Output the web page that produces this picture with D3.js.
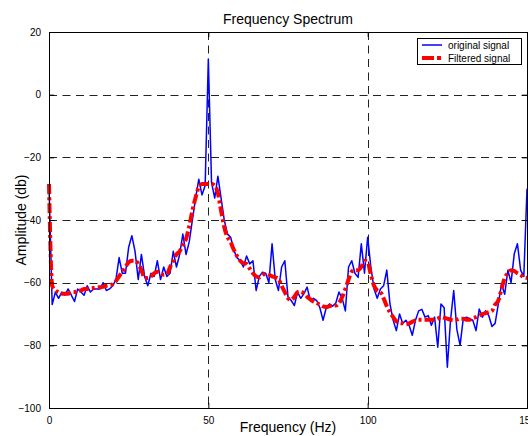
<!DOCTYPE html>
<html>
<head>
<meta charset="utf-8">
<script src="https://cdn.jsdelivr.net/npm/d3@7"></script>
<style>
  html, body { margin: 0; padding: 0; background: #fff; }
  svg { display: block; font-family: "Liberation Sans", Arial, sans-serif; }
</style>
</head>
<body>
<svg id="chart" width="528" height="436"></svg>
<script>
// frequency bins, 1 Hz apart
const freqs = d3.range(0, 151);

// original spectrum (dB)
const original = [
  -29, -67, -63, -65, -63, -64, -62, -64, -66, -62,
  -63, -64, -61, -63, -62, -62, -62, -60, -62.5, -62,
  -61, -59, -52, -57, -57, -48.7, -45, -50, -59, -51,
  -58, -61, -57, -58, -53, -59, -55, -58, -57, -50,
  -55, -51, -44.5, -51, -47, -40, -33, -27, -32, -29,
  11.4, -28, -33, -26, -33, -40, -44.5, -45.5, -49.7, -52,
  -53, -55, -51.5, -54, -53, -62.5, -58, -56.7, -57, -60,
  -47.6, -59, -62.5, -55, -53, -64.6, -65.7, -67.3, -63, -65,
  -63.5, -61.4, -65.7, -65, -65.7, -68, -72, -68, -66.8, -67.5,
  -66.5, -63, -65, -69, -55, -53, -57, -58.3, -47.6, -57,
  -45.5, -55, -62, -65, -62, -61, -56, -66.8, -72, -75.3,
  -70, -73, -72, -73.6, -76.8, -72, -69, -68.5, -71, -70.5,
  -73.6, -71, -80.6, -66.8, -68, -87, -72, -62.5, -75, -80,
  -71.5, -71, -71.5, -72, -75.3, -68.4, -71, -69, -70.5, -74,
  -73, -66.8, -60.5, -63.7, -56, -60, -50.8, -47.6, -56, -58,
  -30
];

// filtered spectrum (dB)
const filtered = [
  -28.5, -61, -62.5, -63, -63.5, -63.5, -63.5, -63, -63, -62.5,
  -62.5, -62, -62, -61.8, -61.7, -61.5, -61.5, -61.3, -61, -60.8,
  -60.5, -59.5, -58, -56.5, -55, -53.5, -53, -53, -54, -56,
  -58.5, -58.5, -58, -57, -56.5, -57, -57.5, -57.3, -55, -53,
  -51, -50, -48, -46, -42, -37, -32.8, -29.5, -28.5, -28.5,
  -28.5, -28.5, -29, -31.5, -37, -42.3, -45.4, -47, -49.5, -51.5,
  -53, -53.8, -54, -55.5, -57, -58, -58.3, -57.5, -57.2, -57.5,
  -58, -58.3, -58.8, -61, -63, -65, -65.5, -64.5, -63, -62.8,
  -63.5, -64.5, -65.3, -66, -66.5, -67, -67.6, -67.8, -67.5, -67.3,
  -67.3, -66.5, -64.6, -62, -59, -56.5, -56, -56, -55, -53,
  -53.5, -57.5, -61, -62.5, -63, -65, -67.5, -69.5, -71, -72.3,
  -72.8, -73, -73.3, -73, -72.5, -72, -71.8, -71.8, -71.8, -71.8,
  -71.8, -71.8, -71.5, -71, -71.2, -71.5, -71.8, -72, -71.8, -71.5,
  -71.5, -71.8, -71.8, -71.3, -71, -70.5, -70, -69.7, -69.4, -69,
  -67, -65.7, -62, -58.5, -57, -56, -56.3, -57, -57.5, -58.3,
  -58.5
];

const xTicks = [0, 50, 100, 150];
const yTicks = [-100, -80, -60, -40, -20, 0, 20];
const legendLabels = ["original signal", "Filtered signal"];

const svg = d3.select("#chart");
const plotL = 49, plotR = 527, plotT = 32, plotB = 408;

const x = d3.scaleLinear().domain([0, 150]).range([plotL, plotR]);
const y = d3.scaleLinear().domain([-100, 20]).range([plotB, plotT]);

// grid
const grid = svg.append("g")
    .attr("stroke", "#222")
    .attr("stroke-width", 1)
    .attr("stroke-dasharray", "8,5.5");
grid.selectAll("line.gx")
    .data(xTicks.slice(1, -1))
    .enter().append("line")
    .attr("x1", d => Math.round(x(d)) + 0.5).attr("x2", d => Math.round(x(d)) + 0.5)
    .attr("y1", plotT).attr("y2", plotB);
grid.selectAll("line.gy")
    .data(yTicks.slice(1, -1))
    .enter().append("line")
    .attr("y1", d => Math.round(y(d)) + 0.5).attr("y2", d => Math.round(y(d)) + 0.5)
    .attr("x1", plotL).attr("x2", plotR);

// series
const line = d3.line()
    .x((d, i) => x(freqs[i]))
    .y(d => y(d));

svg.append("path")
    .datum(original)
    .attr("fill", "none")
    .attr("stroke", "#0000ff")
    .attr("stroke-width", 1.5)
    .attr("stroke-linejoin", "round")
    .attr("d", line);

svg.append("path")
    .datum(filtered)
    .attr("fill", "none")
    .attr("stroke", "#ff0000")
    .attr("stroke-width", 4)
    .attr("stroke-dasharray", "10,3,3,3")
    .attr("d", line.curve(d3.curveMonotoneX));

// axes box and ticks (ticks point inward, MATLAB style)
const xAxisB = d3.axisBottom(x).tickValues(xTicks).tickSize(-5).tickPadding(9);
const yAxisL = d3.axisLeft(y).tickValues(yTicks).tickSize(-5).tickPadding(8);

svg.append("g")
    .attr("transform", `translate(0,${plotB})`)
    .call(xAxisB);
svg.append("g")
    .attr("transform", `translate(${plotL},0)`)
    .call(yAxisL);
svg.append("g")
    .attr("transform", `translate(0,${plotT})`)
    .call(d3.axisTop(x).tickValues(xTicks).tickSize(-5).tickFormat(""));
svg.append("g")
    .attr("transform", `translate(${plotR},0)`)
    .call(d3.axisRight(y).tickValues(yTicks).tickSize(-5).tickFormat(""));

svg.selectAll(".domain").attr("stroke", "#000").attr("stroke-width", 1);
svg.selectAll(".tick line").attr("stroke", "#000");
svg.selectAll(".tick text")
    .attr("font-family", "Liberation Sans, Arial, sans-serif")
    .attr("font-size", 10)
    .attr("fill", "#000");

// titles
svg.append("text")
    .attr("x", (plotL + plotR) / 2).attr("y", 24)
    .attr("text-anchor", "middle")
    .attr("font-size", 14)
    .text("Frequency Spectrum");

svg.append("text")
    .attr("x", (plotL + plotR) / 2).attr("y", 432)
    .attr("text-anchor", "middle")
    .attr("font-size", 14)
    .text("Frequency (Hz)");

svg.append("text")
    .attr("transform", `translate(26,${(plotT + plotB) / 2}) rotate(-90)`)
    .attr("text-anchor", "middle")
    .attr("font-size", 14)
    .text("Amplitude (db)");

// legend
const lg = svg.append("g").attr("transform", "translate(417,38)");
lg.append("rect")
    .attr("x", 0.5).attr("y", 0.5)
    .attr("width", 104).attr("height", 26)
    .attr("fill", "#fff")
    .attr("stroke", "#000");

const legendStyles = [
  { color: "#0000ff", width: 1.5, dash: null },
  { color: "#ff0000", width: 4, dash: "12,3,4,3" }
];
legendLabels.forEach((lab, i) => {
  const cy = 7 + i * 13;
  lg.append("line")
      .attr("x1", 5).attr("x2", 25)
      .attr("y1", cy).attr("y2", cy)
      .attr("stroke", legendStyles[i].color)
      .attr("stroke-width", legendStyles[i].width)
      .attr("stroke-dasharray", legendStyles[i].dash);
  lg.append("text")
      .attr("x", 31).attr("y", cy + 4)
      .attr("font-size", 10)
      .text(lab);
});
</script>
</body>
</html>
